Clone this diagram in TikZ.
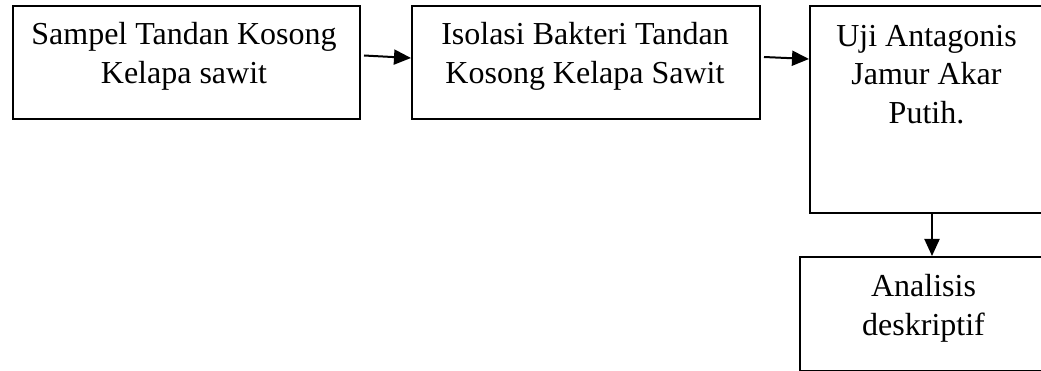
\documentclass[tikz,border=0pt]{standalone}
\usepackage{fontspec}
\setmainfont{Liberation Serif}
\usetikzlibrary{arrows.meta,calc}
\begin{document}
\begin{tikzpicture}[x=1pt,y=-1pt,
  box/.style={draw=black,line width=2pt,rectangle,inner sep=0pt,anchor=north west},
  lbl/.style={align=center,anchor=base,inner sep=0pt,font=\fontsize{32}{38.5}\selectfont},
  arr/.style={line width=2pt,-{Triangle[length=17pt,width=15pt]}}]
\useasboundingbox (0,0) rectangle (1041,371);
\node[box,minimum width=347pt,minimum height=113pt] (b1) at (12,5) {};
\node[box,minimum width=348pt,minimum height=113pt] (b2) at (411,5) {};
\node[box,minimum width=240pt,minimum height=207pt] (b3) at (809,5) {};
\node[box,minimum width=250pt,minimum height=114pt] (b4) at (799,256) {};
\node[lbl] (t1) at (184,83.3) {Sampel Tandan Kosong\\Kelapa sawit};
\node[lbl] (t2) at (585,83.5) {Isolasi Bakteri Tandan\\Kosong Kelapa Sawit};
\node[lbl] (t3) at (926.5,123.3) {Uji Antagonis\\Jamur Akar\\Putih.};
\node[lbl] (t4) at (923.5,335) {Analisis\\deskriptif};
\coordinate (c3) at (932,0);
\draw[arr] ($(b1.north east)+(3,50.5)$) -- ($(b2.north west)+(0,53)$);
\draw[arr] ($(b2.north east)+(3,52)$) -- ($(b3.north west)+(0,54)$);
\draw[arr] (b3.south -| c3) -- (b4.north -| c3);
\end{tikzpicture}
\end{document}
